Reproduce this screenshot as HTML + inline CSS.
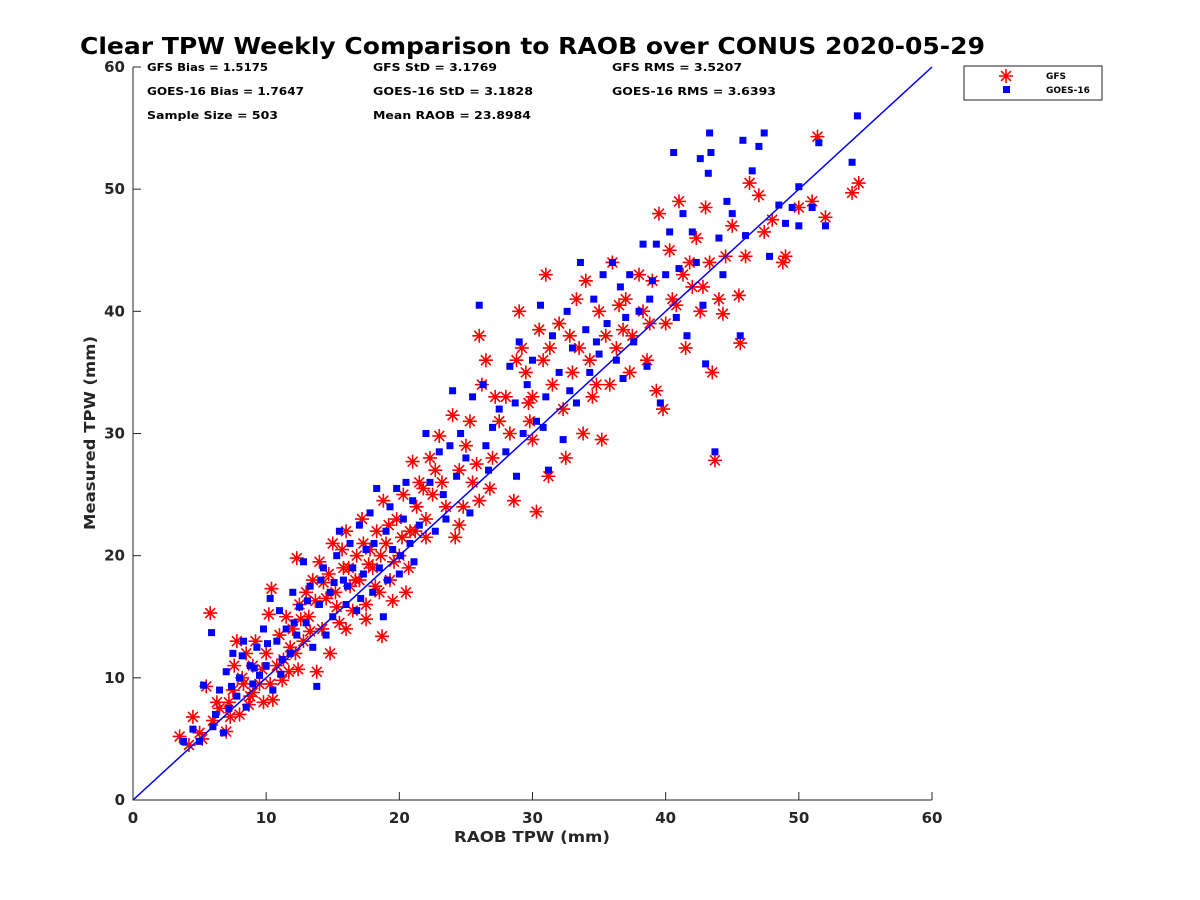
<!DOCTYPE html>
<html><head><meta charset="utf-8"><style>
html,body{margin:0;padding:0;background:#fff;}
svg{display:block;font-family:"DejaVu Sans","Liberation Sans",sans-serif;}
</style></head><body>
<svg id="chart" width="1200" height="900" xmlns="http://www.w3.org/2000/svg">
<text x="80" y="54" font-size="23" font-weight="bold" textLength="905" lengthAdjust="spacingAndGlyphs">Clear TPW Weekly Comparison to RAOB over CONUS 2020-05-29</text>
<g font-size="11" font-weight="bold">
<text x="147" y="71" textLength="121" lengthAdjust="spacingAndGlyphs">GFS Bias = 1.5175</text>
<text x="147" y="95" textLength="157" lengthAdjust="spacingAndGlyphs">GOES-16 Bias = 1.7647</text>
<text x="147" y="119" textLength="131" lengthAdjust="spacingAndGlyphs">Sample Size = 503</text>
<text x="373" y="71" textLength="124" lengthAdjust="spacingAndGlyphs">GFS StD = 3.1769</text>
<text x="373" y="95" textLength="160" lengthAdjust="spacingAndGlyphs">GOES-16 StD = 3.1828</text>
<text x="373" y="119" textLength="158" lengthAdjust="spacingAndGlyphs">Mean RAOB = 23.8984</text>
<text x="612" y="71" textLength="130" lengthAdjust="spacingAndGlyphs">GFS RMS = 3.5207</text>
<text x="612" y="95" textLength="164" lengthAdjust="spacingAndGlyphs">GOES-16 RMS = 3.6393</text>
</g>
<g id="axes"></g>
<g id="marks"></g>
<g>
<rect x="964" y="66" width="138" height="34" fill="#fff" stroke="#222" stroke-width="1"/>
<g id="legstar"></g>
<rect x="1003" y="86" width="7" height="7" fill="#0000ff"/>
<text x="1046" y="79" font-size="9" font-weight="bold">GFS</text>
<text x="1046" y="93" font-size="9" font-weight="bold">GOES-16</text>
</g>
</svg>
<script>
const xTicks=[0,10,20,30,40,50,60];
const yTicks=[0,10,20,30,40,50,60];
const gfsPts=[[3.5,5.2],[4.2,4.5],[4.5,6.8],[5.2,5],[5.5,9.3],[5.8,15.3],[6,6.5],[6.5,7.5],[7,5.6],[7.2,8],[7.5,9],[7.6,11],[7.8,13],[8,7],[8.2,10],[8.5,12],[8.8,8.5],[9,11],[9.2,13],[9.5,9.5],[9.8,8],[10,12],[10.2,15.2],[10.4,17.3],[10.5,8.2],[10.8,11],[11,13.5],[11.2,9.8],[11.5,15],[11.8,12.5],[12,14],[12.3,19.8],[12.5,16],[12.8,13],[13,17],[13.2,15],[13.5,18],[13.8,10.5],[14,19.5],[14.2,14],[14.5,16.5],[14.8,12],[15,21],[15.2,17],[15.5,14.5],[15.8,19],[16,22],[16.3,17.5],[16.5,15.5],[16.8,20],[17,18],[17.2,23],[17.5,16],[17.8,20.5],[18,19],[18.3,22],[18.5,17],[18.7,13.4],[18.8,24.5],[19,21],[19.3,18],[19.5,16.3],[19.8,23],[20,20],[20.3,25],[20.5,17],[20.8,22],[21,27.7],[21.3,24],[21.5,26],[22,23],[22.3,28],[22.5,25],[23,29.8],[23.5,24],[24,31.5],[24.2,21.5],[24.5,27],[24.8,24],[25,29],[25.3,31],[25.5,26],[26,38],[26.2,34],[26.5,36],[26.8,25.5],[27,28],[27.5,31],[28,33],[28.3,30],[28.6,24.5],[29,40],[29.2,37],[29.5,35],[29.8,31],[30,33],[30.3,23.6],[30.5,38.5],[30.8,36],[31,43],[31.2,26.5],[31.5,34],[32,39],[32.3,32],[32.5,28],[33,35],[33.3,41],[33.5,37],[33.8,30],[34,42.5],[34.3,36],[34.5,33],[35,40],[35.2,29.5],[35.5,38],[35.8,34],[36,44],[36.3,37],[36.5,40.5],[37,41],[37.3,35],[37.5,38],[38,43],[38.3,40],[38.6,36],[39,42.5],[39.3,33.5],[39.5,48],[39.8,32],[40,39],[40.3,45],[40.5,41],[41,49],[41.3,43],[41.5,37],[41.8,44],[42,42],[42.3,46],[42.6,40],[43,48.5],[43.3,44],[43.5,35],[43.7,27.8],[44,41],[44.3,39.8],[44.5,44.5],[45,47],[45.5,41.3],[45.6,37.4],[46,44.5],[46.3,50.5],[47,49.5],[47.4,46.5],[48,47.5],[48.8,44],[49,44.5],[50,48.5],[51,49],[51.4,54.3],[52,47.7],[54,49.7],[54.5,50.5],
[8.3,9.5],[9,8.8],[9.7,10.7],[10.3,9.5],[11.3,11.5],[11.7,10.5],[12.2,12],[12.6,14.8],[13.3,13.8],[13.7,16.3],[14.3,17.8],[14.7,18.5],[15.3,15.8],[15.7,20.5],[16.2,19],[16.7,18],[17.3,21],[17.7,19.3],[18.2,17.5],[18.6,20],[19.2,22.5],[19.6,19.5],[20.2,21.5],[20.7,19],[21.2,22],[21.8,25.5],[22.7,27],[23.2,26],[24.5,22.5],[25.8,27.5],[27.2,33],[28.8,36],[29.7,32.5],[31.3,37],[32.8,38],[34.8,34],[36.8,38.5],[38.8,39],[40.8,40.5],[42.8,42],[6.3,8],[5,5.5],[7.3,6.8],[8.7,7.8],[12.4,10.7],[16,14],[17.5,14.8],[22,21.5],[26,24.5],[30,29.5]];
const goesPts=[[3.8,4.8],[4.5,5.8],[5,4.8],[5.3,9.4],[5.9,13.7],[6.2,7],[6.5,9],[6.8,5.5],[7,10.5],[7.2,7.5],[7.5,12],[7.8,8.5],[8,10],[8.3,13],[8.5,7.6],[8.8,11],[9,9.5],[9.3,12.5],[9.5,10.2],[9.8,14],[10,11],[10.3,16.5],[10.5,9],[10.8,13],[11,15.5],[11.2,11.5],[11.5,14],[11.8,12],[12,17],[12.3,13.5],[12.5,15.8],[12.8,19.5],[13,14.5],[13.3,17.5],[13.5,12.5],[13.8,9.3],[14,16],[14.3,19],[14.5,13.5],[14.8,17],[15,15],[15.3,20],[15.5,22],[15.8,18],[16,16],[16.3,21],[16.5,19],[16.8,15.5],[17,22.5],[17.3,18.5],[17.5,20.5],[17.8,23.5],[18,17],[18.3,25.5],[18.5,19],[18.8,15],[19,22],[19.3,24],[19.5,20.5],[19.8,25.5],[20,18.5],[20.3,23],[20.5,26],[20.8,21],[21,24.5],[21.5,22.5],[22,30],[22.3,26],[22.7,22],[23,28.5],[23.3,25],[23.8,29],[24,33.5],[24.3,26.5],[24.6,30],[25,28],[25.3,23.5],[25.5,33],[26,40.5],[26.3,34],[26.7,27],[27,30.5],[27.5,32],[28,28.5],[28.3,35.5],[28.7,32.5],[29,37.5],[29.3,30],[29.6,34],[30,36],[30.3,31],[30.6,40.5],[31,33],[31.2,27],[31.5,38],[32,35],[32.3,29.5],[32.6,40],[33,37],[33.3,32.5],[33.6,44],[34,38.5],[34.3,35],[34.6,41],[35,36.5],[35.3,43],[35.6,39],[36,44],[36.3,36],[36.6,42],[37,39.5],[37.3,43],[37.6,37.5],[38,40],[38.3,45.5],[38.6,35.5],[39,42.5],[39.3,45.5],[39.6,32.5],[40,43],[40.3,46.5],[40.6,53],[41,43.5],[41.3,48],[41.6,38],[42,46.5],[42.3,44],[42.6,52.5],[43,35.7],[43.2,51.3],[43.3,54.6],[43.4,53],[43.7,28.5],[44,46],[44.3,43],[44.6,49],[45,48],[45.6,38],[45.8,54],[46,46.2],[46.5,51.5],[47,53.5],[47.4,54.6],[47.8,44.5],[48.5,48.7],[49,47.2],[49.5,48.5],[50,50.2],[50,47],[51,48.5],[51.5,53.8],[52,47],[54,52.2],[54.4,56],
[6,6],[7.4,9.3],[8.2,11.8],[9.1,10.8],[10.1,12.8],[11.1,10.3],[12.1,14.5],[13.1,16.3],[14.1,18],[15.1,17.8],[16.1,17.5],[17.1,16.5],[18.1,21],[19.1,18],[20.1,20],[21.1,19.5],[23.5,23],[26.5,29],[28.8,26.5],[30.8,30.5],[32.8,33.5],[34.8,37.5],[36.8,34.5],[38.8,41],[40.8,39.5],[42.8,40.5]];
const NS="http://www.w3.org/2000/svg";
const X0=133,X1=932,Y0=800,Y1=67;
const sx=v=>X0+(v-0)/60*(X1-X0);
const sy=v=>Y0-(v-0)/60*(Y0-Y1);
function mk(tag,attrs,parent){const e=document.createElementNS(NS,tag);for(const k in attrs)e.setAttribute(k,attrs[k]);parent.appendChild(e);return e;}
const axes=document.getElementById('axes');
const ax=mk('path',{d:`M${X0} ${Y1}V${Y0}H${X1}`,stroke:'#262626',fill:'none','stroke-width':1},axes);


xTicks.forEach(t=>{
 const l=mk('line',{x1:sx(t),x2:sx(t),y1:Y0,y2:Y0-8,stroke:'#262626'},axes);
 
 
 const tx=mk('text',{x:sx(t),y:Y0+23,'text-anchor':'middle','font-size':15,'font-weight':'bold',fill:'#262626'},axes);
 tx.textContent=t;
 
 
});
yTicks.forEach(t=>{
 const l=mk('line',{x1:X0,x2:X0+8,y1:sy(t),y2:sy(t),stroke:'#262626'},axes);
 
 
 const tx=mk('text',{x:X0-8,y:sy(t)+5,'text-anchor':'end','font-size':15,'font-weight':'bold',fill:'#262626'},axes);
 tx.textContent=t;
 
 
});
const xl=mk('text',{x:532,y:842,'text-anchor':'middle','font-size':15,'font-weight':'bold',fill:'#262626',textLength:156,lengthAdjust:'spacingAndGlyphs'},axes);
xl.textContent='RAOB TPW (mm)';


const yl=mk('text',{x:95,y:433,'text-anchor':'middle','font-size':15,'font-weight':'bold',fill:'#262626',transform:'rotate(-90 95 433)',textLength:194,lengthAdjust:'spacingAndGlyphs'},axes);
yl.textContent='Measured TPW (mm)';


const marks=document.getElementById('marks');
function star(cx,cy,g){
 const r=7,d=r*0.707;
 return mk('path',{d:`M${cx-r} ${cy}H${cx+r}M${cx} ${cy-r}V${cy+r}M${cx-d} ${cy-d}L${cx+d} ${cy+d}M${cx-d} ${cy+d}L${cx+d} ${cy-d}`,stroke:'#ff0000','stroke-width':1.6,fill:'none'},g);
}
const gG=mk('g',{},marks);


gfsPts.forEach(p=>{
 const s=star(sx(p[0]),sy(p[1]),gG);
 
 
});
const gB=mk('g',{},marks);


goesPts.forEach(p=>{
 const r=mk('rect',{x:sx(p[0])-3.5,y:sy(p[1])-3.5,width:7,height:7,fill:'#0000ff'},gB);
 
 
});
const ol=mk('line',{x1:sx(0),y1:sy(0),x2:sx(60),y2:sy(60),stroke:'#0000ff','stroke-width':1.5},marks);


const ls=star(1006,76,document.getElementById('legstar'));


</script>
</body></html>
